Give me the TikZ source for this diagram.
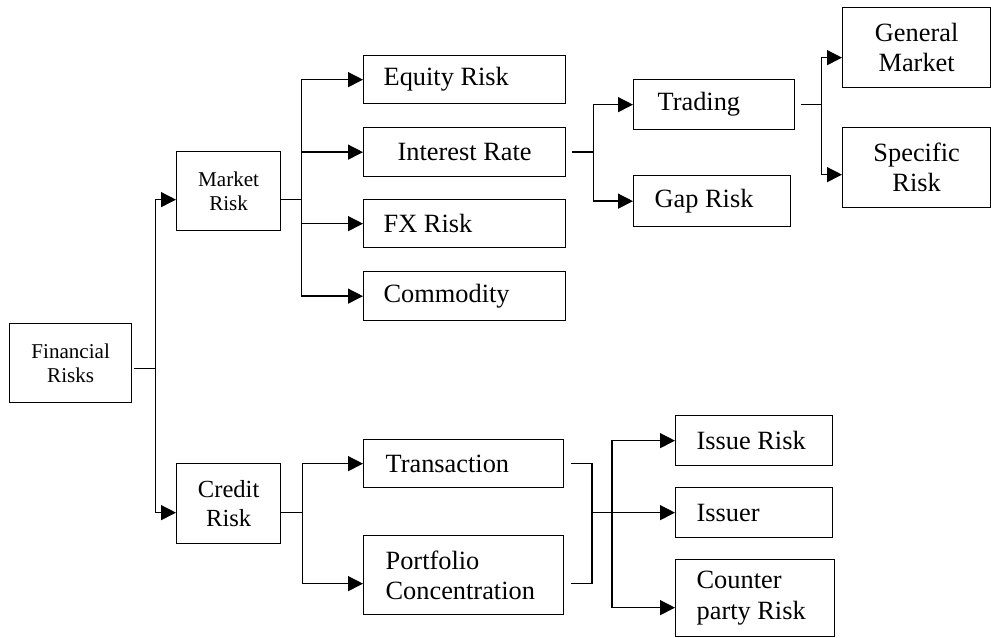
\documentclass[tikz,border=0pt]{standalone}
\usepackage{fontspec}
\setmainfont{Liberation Serif}
\usetikzlibrary{arrows.meta}

\begin{document}
\begin{tikzpicture}[x=0.02cm,y=-0.02cm,
  every node/.style={font=\fontsize{15}{17.25}\selectfont},
  box/.style={draw,line width=0.75pt,anchor=north west,inner sep=0pt},
  smalltext/.style={font=\fontsize{12}{13.8}\selectfont},
  arrow/.style={-{Triangle[length=0.3cm,width=0.3cm]},line width=0.75pt},
  link/.style={line width=0.75pt}
]
\useasboundingbox (0,0) rectangle (991,638);

% left column
\node[box,smalltext,align=center,minimum width=2.44cm,minimum height=1.58cm] (fin) at (9,323) {Financial\\Risks};
\node[box,smalltext,align=center,minimum width=2.08cm,minimum height=1.58cm] (mkt) at (176,151) {Market\\Risk};
\node[box,font=\fontsize{14}{17}\selectfont,align=center,minimum width=2.08cm,minimum height=1.6cm] (crd) at (176,463) {Credit\\Risk};

% market risk branch
\node[box,align=flush left,inner xsep=0.4cm,text width=3.24cm,minimum height=0.96cm] (eqt) at (363,55) {Equity Risk};
\node[box,align=center,minimum width=4.04cm,minimum height=0.98cm] (irt) at (363,127) {Interest Rate};
\node[box,align=flush left,inner xsep=0.4cm,text width=3.24cm,minimum height=0.96cm] (fx) at (363,199) {FX Risk};
\node[box,align=flush left,inner xsep=0.4cm,text width=3.24cm,minimum height=0.98cm] (cmd) at (363,271) {Commodity};

\node[box,align=flush left,inner xsep=0.48cm,text width=2.26cm,minimum height=1cm] (trd) at (633,79) {Trading};
\node[box,align=flush left,inner xsep=0.42cm,text width=2.3cm,minimum height=1.02cm] (gap) at (633,175) {Gap Risk};

\node[box,align=center,minimum width=2.96cm,minimum height=1.6cm] (gen) at (842,7) {General\\Market};
\node[box,align=center,minimum width=2.96cm,minimum height=1.6cm] (spc) at (842,127) {Specific\\Risk};

% credit risk branch
\node[box,align=flush left,inner xsep=0.44cm,text width=3.12cm,minimum height=0.96cm] (trn) at (363,439) {Transaction};
\node[box,align=flush left,inner xsep=0.44cm,text width=3.12cm,minimum height=1.58cm] (prt) at (363,535) {Portfolio\\Concentration};

\node[box,align=flush left,inner xsep=0.42cm,text width=2.3cm,minimum height=1cm] (iss) at (675,415) {Issue Risk};
\node[box,align=flush left,inner xsep=0.42cm,text width=2.3cm,minimum height=1cm] (isr) at (675,487) {Issuer};
\node[box,align=flush left,inner xsep=0.42cm,text width=2.34cm,minimum height=1.54cm] (cpt) at (675,559) {Counter\\party Risk};

% bus points
\coordinate (busA) at ([xshift=0.46cm,yshift=-0.11cm]fin.east);
\coordinate (busB) at ([xshift=0.4cm,yshift=-0.17cm]mkt.east);
\coordinate (busC) at ([xshift=0.54cm]irt.east);
\coordinate (busD) at ([xshift=0.52cm]trd.east);
\coordinate (busE) at ([xshift=0.42cm,yshift=-0.18cm]crd.east);
\coordinate (busF) at ([xshift=-1.66cm]isr.west);
\coordinate (busG) at ([xshift=-1.26cm]isr.west);

\draw[arrow] ([xshift=0.04cm,yshift=-0.11cm]fin.east) -- (busA) |- ([yshift=-0.17cm]mkt.west);
\draw[arrow] (busA) |- ([yshift=-0.18cm]crd.west);

\draw[link] ([yshift=-0.17cm]mkt.east) -- (busB);
\draw[arrow] (busB) |- (eqt.west);
\draw[arrow] (busB) |- (irt.west);
\draw[arrow] (busB) |- (fx.west);
\draw[arrow] (busB) |- (cmd.west);

\draw[link] ([xshift=0.12cm]irt.east) -- (busC);
\draw[arrow] (busC) |- (trd.west);
\draw[arrow] (busC) |- (gap.west);

\draw[link] ([xshift=0.12cm]trd.east) -- (busD);
\draw[arrow] (busD) |- ([yshift=-0.2cm]gen.west);
\draw[arrow] (busD) |- ([yshift=-0.14cm]spc.west);

\draw[link] ([yshift=-0.18cm]crd.east) -- (busE);
\draw[arrow] (busE) |- (trn.west);
\draw[arrow] (busE) |- ([yshift=-0.17cm]prt.west);

\draw[link] ([xshift=0.14cm]trn.east) -| (busF);
\draw[link] ([xshift=0.14cm,yshift=-0.17cm]prt.east) -| (busF);
\draw[arrow] (busF) -- (isr.west);
\draw[arrow] (busG) |- (iss.west);
\draw[arrow] (busG) |- ([yshift=-0.19cm]cpt.west);
\end{tikzpicture}
\end{document}
